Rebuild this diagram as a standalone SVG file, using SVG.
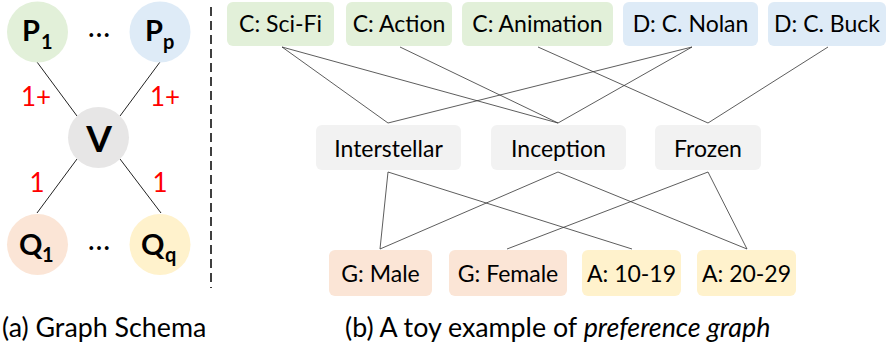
<svg xmlns="http://www.w3.org/2000/svg" width="888" height="349" viewBox="0 0 888 349">
<style>
  text { font-family: Lato, "Open Sans", "Liberation Sans", sans-serif; fill: #000; }
  .big { font-weight: bold; font-size: 29px; }
  .sub { font-weight: bold; font-size: 20px; }
  .red { fill: #ff0000; font-size: 26px; text-anchor: middle; }
  .lbl { font-size: 23px; text-anchor: middle; }
  .cap { font-size: 26.8px; }
  .dots { font-size: 30px; text-anchor: middle; }
  .edge { stroke: #222; stroke-width: 1; fill: none; }
  .edge2 { stroke: #333; stroke-width: 0.8; fill: none; }
  .g { fill: #e2f0d9; } .b { fill: #deebf7; } .k { fill: #f2f2f2; } .o { fill: #fbe5d6; } .y { fill: #fff2cc; }
</style>

<!-- (a) Graph schema -->
<g id="schema-edges">
  <line class="edge" x1="37" y1="62" x2="77" y2="116"/>
  <line class="edge" x1="160" y1="62" x2="120" y2="116"/>
  <line class="edge" x1="77" y1="159" x2="37" y2="213"/>
  <line class="edge" x1="120" y1="159" x2="161" y2="213"/>
</g>
<g id="P1"><circle class="g" cx="37.5" cy="32" r="30.5"/><text class="big" x="22" y="41">P</text><text class="sub" x="41" y="49">1</text></g>
<g id="Pp"><circle class="b" cx="160" cy="32" r="30.5"/><text class="big" x="145" y="41">P</text><text class="sub" x="163" y="49">p</text></g>
<g id="V"><circle cx="98.5" cy="137.5" r="30.5" fill="#e7e6e6"/><text x="99" y="152" font-size="37" font-weight="bold" text-anchor="middle">V</text></g>
<g id="Q1"><circle class="o" cx="37.5" cy="244.5" r="30.5"/><text class="big" x="19" y="255">Q</text><text class="sub" x="42" y="262">1</text></g>
<g id="Qq"><circle class="y" cx="160" cy="244.5" r="30.5"/><text class="big" x="141" y="255">Q</text><text class="sub" x="165" y="262">q</text></g>
<text class="dots" x="99" y="37">…</text>
<text class="dots" x="99" y="250">…</text>
<text class="red" x="36" y="106">1+</text>
<text class="red" x="165" y="106">1+</text>
<text class="red" x="37" y="192">1</text>
<text class="red" x="160" y="192">1</text>

<line x1="211" y1="7" x2="211" y2="288" stroke="#000" stroke-width="1.5" stroke-dasharray="9 5"/>

<!-- (b) preference graph -->
<g id="connectors">
  <line class="edge2" x1="282" y1="47" x2="388" y2="123"/>
  <line class="edge2" x1="282" y1="47" x2="558" y2="123"/>
  <line class="edge2" x1="400" y1="47" x2="558" y2="123"/>
  <line class="edge2" x1="538" y1="47" x2="708" y2="123"/>
  <line class="edge2" x1="692" y1="47" x2="388" y2="123"/>
  <line class="edge2" x1="692" y1="47" x2="558" y2="123"/>
  <line class="edge2" x1="828" y1="47" x2="708" y2="123"/>
  <line class="edge2" x1="388" y1="172" x2="380" y2="249"/>
  <line class="edge2" x1="388" y1="172" x2="632" y2="249"/>
  <line class="edge2" x1="558" y1="172" x2="380" y2="249"/>
  <line class="edge2" x1="558" y1="172" x2="747" y2="249"/>
  <line class="edge2" x1="708" y1="172" x2="507" y2="249"/>
  <line class="edge2" x1="708" y1="172" x2="747" y2="249"/>
</g>

<g id="scifi"><rect class="g" x="227" y="2" width="107" height="44" rx="6"/><text class="lbl" x="280.5" y="32">C: Sci-Fi</text></g>
<g id="action"><rect class="g" x="346" y="2" width="106" height="44" rx="6"/><text class="lbl" x="399" y="32">C: Action</text></g>
<g id="animation"><rect class="g" x="462" y="2" width="151" height="44" rx="6"/><text class="lbl" x="537.5" y="32">C: Animation</text></g>
<g id="nolan"><rect class="b" x="623" y="2" width="135" height="44" rx="6"/><text class="lbl" x="690.5" y="32">D: C. Nolan</text></g>
<g id="buck"><rect class="b" x="768" y="2" width="118" height="44" rx="6"/><text class="lbl" x="827" y="32">D: C. Buck</text></g>

<g id="interstellar"><rect class="k" x="316" y="125" width="145" height="45" rx="6"/><text class="lbl" x="388.5" y="157">Interstellar</text></g>
<g id="inception"><rect class="k" x="491" y="125" width="135" height="45" rx="6"/><text class="lbl" x="558.5" y="157">Inception</text></g>
<g id="frozen"><rect class="k" x="655" y="125" width="106" height="45" rx="6"/><text class="lbl" x="708" y="157">Frozen</text></g>

<g id="male"><rect class="o" x="329" y="250" width="103" height="46" rx="6"/><text class="lbl" x="380.5" y="282">G: Male</text></g>
<g id="female"><rect class="o" x="449" y="250" width="118" height="46" rx="6"/><text class="lbl" x="508" y="282">G: Female</text></g>
<g id="a1019"><rect class="y" x="582" y="250" width="99" height="46" rx="6"/><text class="lbl" x="631.5" y="282">A: 10-19</text></g>
<g id="a2029"><rect class="y" x="697" y="250" width="99" height="46" rx="6"/><text class="lbl" x="746.5" y="282">A: 20-29</text></g>

<text class="cap" x="2" y="337">(a) Graph Schema</text>
<text class="cap" x="345" y="337">(b) A toy example of <tspan font-style="italic">preference graph</tspan></text>
</svg>
